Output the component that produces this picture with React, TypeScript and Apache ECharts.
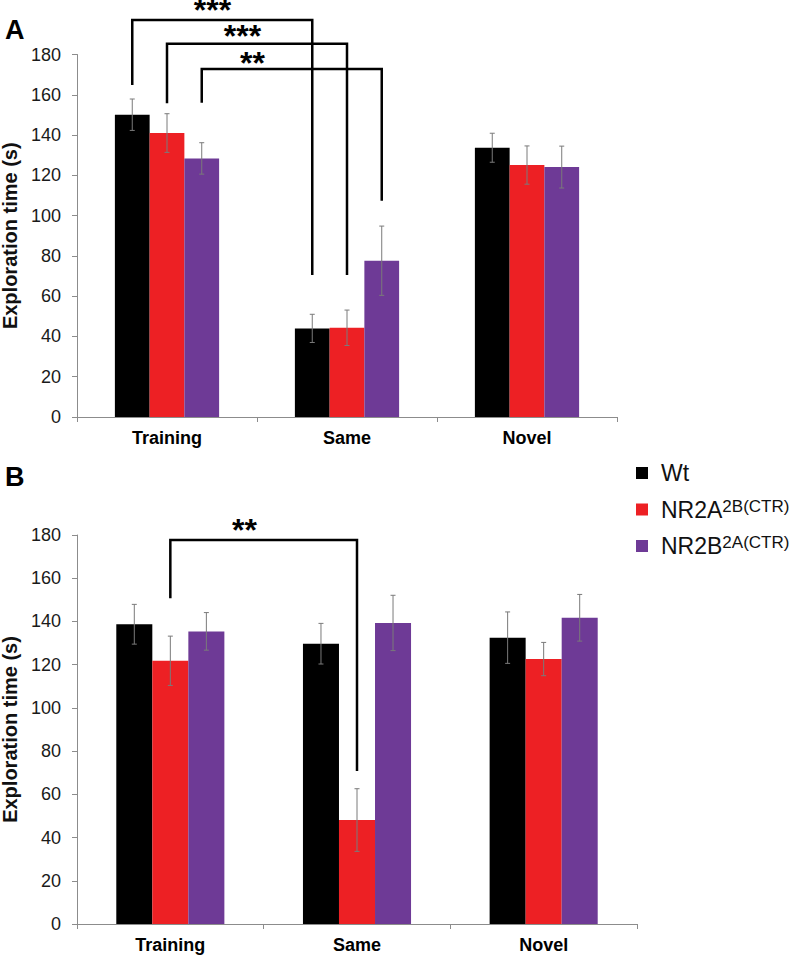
import React, { useEffect, useRef } from "react";
import * as echarts from "echarts";

const FONT = '"Liberation Sans", Arial, Helvetica, sans-serif';

const categories = ["Training", "Same", "Novel"];
const groups = ["Wt", "NR2A", "NR2B"];
const groupSup = ["", "2B(CTR)", "2A(CTR)"];
const groupColors = ["#000000", "#ED2024", "#6E3A96"];

// Panel A
const wtA = [150.1, 44.0, 133.7];
const nr2aA = [141.0, 44.3, 125.1];
const nr2bA = [128.4, 77.6, 124.1];
const wtErrA = [7.8, 7.0, 7.2];
const nr2aErrA = [9.6, 8.8, 9.5];
const nr2bErrA = [7.8, 17.2, 10.4];

// Panel B
const wtB = [138.7, 129.7, 132.5];
const nr2aB = [121.8, 48.1, 122.6];
const nr2bB = [135.4, 139.3, 141.7];
const wtErrB = [9.2, 9.4, 11.9];
const nr2aErrB = [11.4, 14.5, 7.7];
const nr2bErrB = [8.7, 12.8, 10.8];

const yTicks = { min: 0, max: 180, interval: 20 };

// significance brackets: [category, bar] ends, [left foot, top, right foot] values
const bracketFromA = [[0, 0], [0, 1], [0, 2]];
const bracketToA = [[1, 0], [1, 1], [1, 2]];
const bracketLevelsA = [[164.8, 197.1, 70.5], [155.8, 185.4, 70.5], [156.0, 172.8, 107.4]];
const starTextA = ["***", "***", "**"];
const starPosA = [[0.753, 202.0], [0.919, 189.0], [0.975, 175.6]];

const bracketFromB = [[0, 1]];
const bracketToB = [[1, 1]];
const bracketLevelsB = [[150.7, 177.7, 70.8]];
const starTextB = ["**"];
const starPosB = [[0.897, 182.1]];

const BAR_FRAC = 0.193;

const panels = [
  { means: [wtA, nr2aA, nr2bA], errs: [wtErrA, nr2aErrA, nr2bErrA], from: bracketFromA, to: bracketToA, levels: bracketLevelsA, stars: starTextA, starPos: starPosA },
  { means: [wtB, nr2aB, nr2bB], errs: [wtErrB, nr2aErrB, nr2bErrB], from: bracketFromB, to: bracketToB, levels: bracketLevelsB, stars: starTextB, starPos: starPosB },
];

function buildOption() {
  const series: any[] = [];
  panels.forEach((p, pi) => {
    groups.forEach((g, gi) => {
      series.push({
        type: "bar",
        name: g,
        xAxisIndex: pi,
        yAxisIndex: pi,
        data: p.means[gi],
        barWidth: BAR_FRAC * 100 + "%",
        barGap: "0%",
        itemStyle: { color: groupColors[gi] },
        emphasis: { disabled: true },
      });
    });
    groups.forEach((g, gi) => {
      series.push({
        type: "custom",
        xAxisIndex: pi,
        yAxisIndex: pi,
        z: 5,
        silent: true,
        clip: false,
        encode: { x: 0, y: 1 },
        data: categories.map((_, c) => [c, p.means[gi][c], p.errs[gi][c]]),
        renderItem: (params: any, api: any) => {
          const c = api.value(0);
          const m = api.value(1);
          const e = api.value(2);
          const band = api.size([1, 0])[0];
          const bw = band * BAR_FRAC;
          const x = api.coord([c, m])[0] + (gi - 1) * bw;
          const yT = api.coord([c, m + e])[1];
          const yB = api.coord([c, m - e])[1];
          const st = { stroke: "#7a7a7a", lineWidth: 1 };
          return {
            type: "group",
            children: [
              { type: "line", shape: { x1: x, y1: yT, x2: x, y2: yB }, style: st },
              { type: "line", shape: { x1: x - 2.5, y1: yT, x2: x + 2.5, y2: yT }, style: st },
              { type: "line", shape: { x1: x - 2.5, y1: yB, x2: x + 2.5, y2: yB }, style: st },
            ],
          };
        },
      });
    });
    series.push({
      type: "custom",
      xAxisIndex: pi,
      yAxisIndex: pi,
      z: 6,
      silent: true,
      clip: false,
      encode: { x: 0, y: 1 },
      data: p.from.map((f) => [f[0], 0]),
      renderItem: (params: any, api: any) => {
        const i = params.dataIndex;
        const band = api.size([1, 0])[0];
        const bw = band * BAR_FRAC;
        const px = (cat: number, bar: number) => api.coord([cat, 0])[0] + (bar - 1) * bw;
        const py = (v: number) => api.coord([0, v])[1];
        const x1 = px(p.from[i][0], p.from[i][1]);
        const x2 = px(p.to[i][0], p.to[i][1]);
        const [l, t, r] = p.levels[i];
        const sx = api.coord([0, 0])[0] - band / 2 + p.starPos[i][0] * band;
        const sy = py(p.starPos[i][1]);
        return {
          type: "group",
          children: [
            {
              type: "polyline",
              shape: { points: [[x1, py(l)], [x1, py(t)], [x2, py(t)], [x2, py(r)]] },
              style: { stroke: "#000", lineWidth: 2.5, fill: null },
            },
            {
              type: "text",
              style: {
                text: p.stars[i],
                x: sx,
                y: sy,
                fill: "#000",
                font: `bold 32px ${FONT}`,
                lineHeight: 14,
                align: "center",
                verticalAlign: "middle",
              },
            },
          ],
        };
      },
    });
  });

  const axisLine = { show: true, lineStyle: { color: "#8c8c8c", width: 1 } };
  const axisTick = { show: true, length: 5, lineStyle: { color: "#8c8c8c", width: 1 } };

  return {
    animation: false,
    textStyle: { fontFamily: FONT },
    grid: [
      { left: 77, top: 54.5, width: 540, height: 362.5, containLabel: false, outerBoundsMode: "none" },
      { left: 77, top: 535, width: 560, height: 389, containLabel: false, outerBoundsMode: "none" },
    ],
    xAxis: [0, 1].map((i) => ({
      type: "category",
      gridIndex: i,
      data: categories,
      axisLine,
      axisTick,
      axisLabel: { fontSize: 18, fontWeight: "bold", color: "#000", margin: 12, fontFamily: FONT },
    })),
    yAxis: [0, 1].map((i) => ({
      type: "value",
      gridIndex: i,
      min: yTicks.min,
      max: yTicks.max,
      interval: yTicks.interval,
      axisLine,
      axisTick,
      splitLine: { show: false },
      axisLabel: { fontSize: 18, color: "#1a1a1a", margin: 16, fontFamily: FONT },
      name: "Exploration time (s)",
      nameLocation: "middle",
      nameGap: 55,
      nameTextStyle: { fontSize: 20, fontWeight: "bold", color: "#111", fontFamily: FONT },
    })),
    legend: {
      orient: "vertical",
      left: 631,
      top: 456,
      itemWidth: 12,
      itemHeight: 12,
      itemGap: 12.5,
      icon: "rect",
      data: groups,
      selectedMode: false,
      formatter: (name: string) => {
        const i = groups.indexOf(name);
        return groupSup[i] ? `${name}{sup|${groupSup[i]}}` : name;
      },
      textStyle: {
        fontSize: 23,
        lineHeight: 24,
        color: "#111",
        fontFamily: FONT,
        padding: [0, 0, 0, 8],
        rich: {
          sup: { fontSize: 17, lineHeight: 17, verticalAlign: "top", color: "#111", fontFamily: FONT },
        },
      },
    },
    graphic: [
      { type: "text", x: 5, y: 30, style: { text: "A", font: `bold 27px ${FONT}`, fill: "#000", verticalAlign: "middle" } },
      { type: "text", x: 5, y: 477, style: { text: "B", font: `bold 27px ${FONT}`, fill: "#000", verticalAlign: "middle" } },
    ],
    series,
  };
}

export default function App() {
  const ref = useRef<HTMLDivElement>(null);
  useEffect(() => {
    if (!ref.current) return;
    const chart = echarts.init(ref.current, null, { renderer: "svg" });
    chart.setOption(buildOption() as any);
    return () => chart.dispose();
  }, []);
  return (
    <div
      ref={ref}
      style={{ position: "fixed", left: 0, top: 0, width: 800, height: 958, background: "#fff" }}
    />
  );
}
